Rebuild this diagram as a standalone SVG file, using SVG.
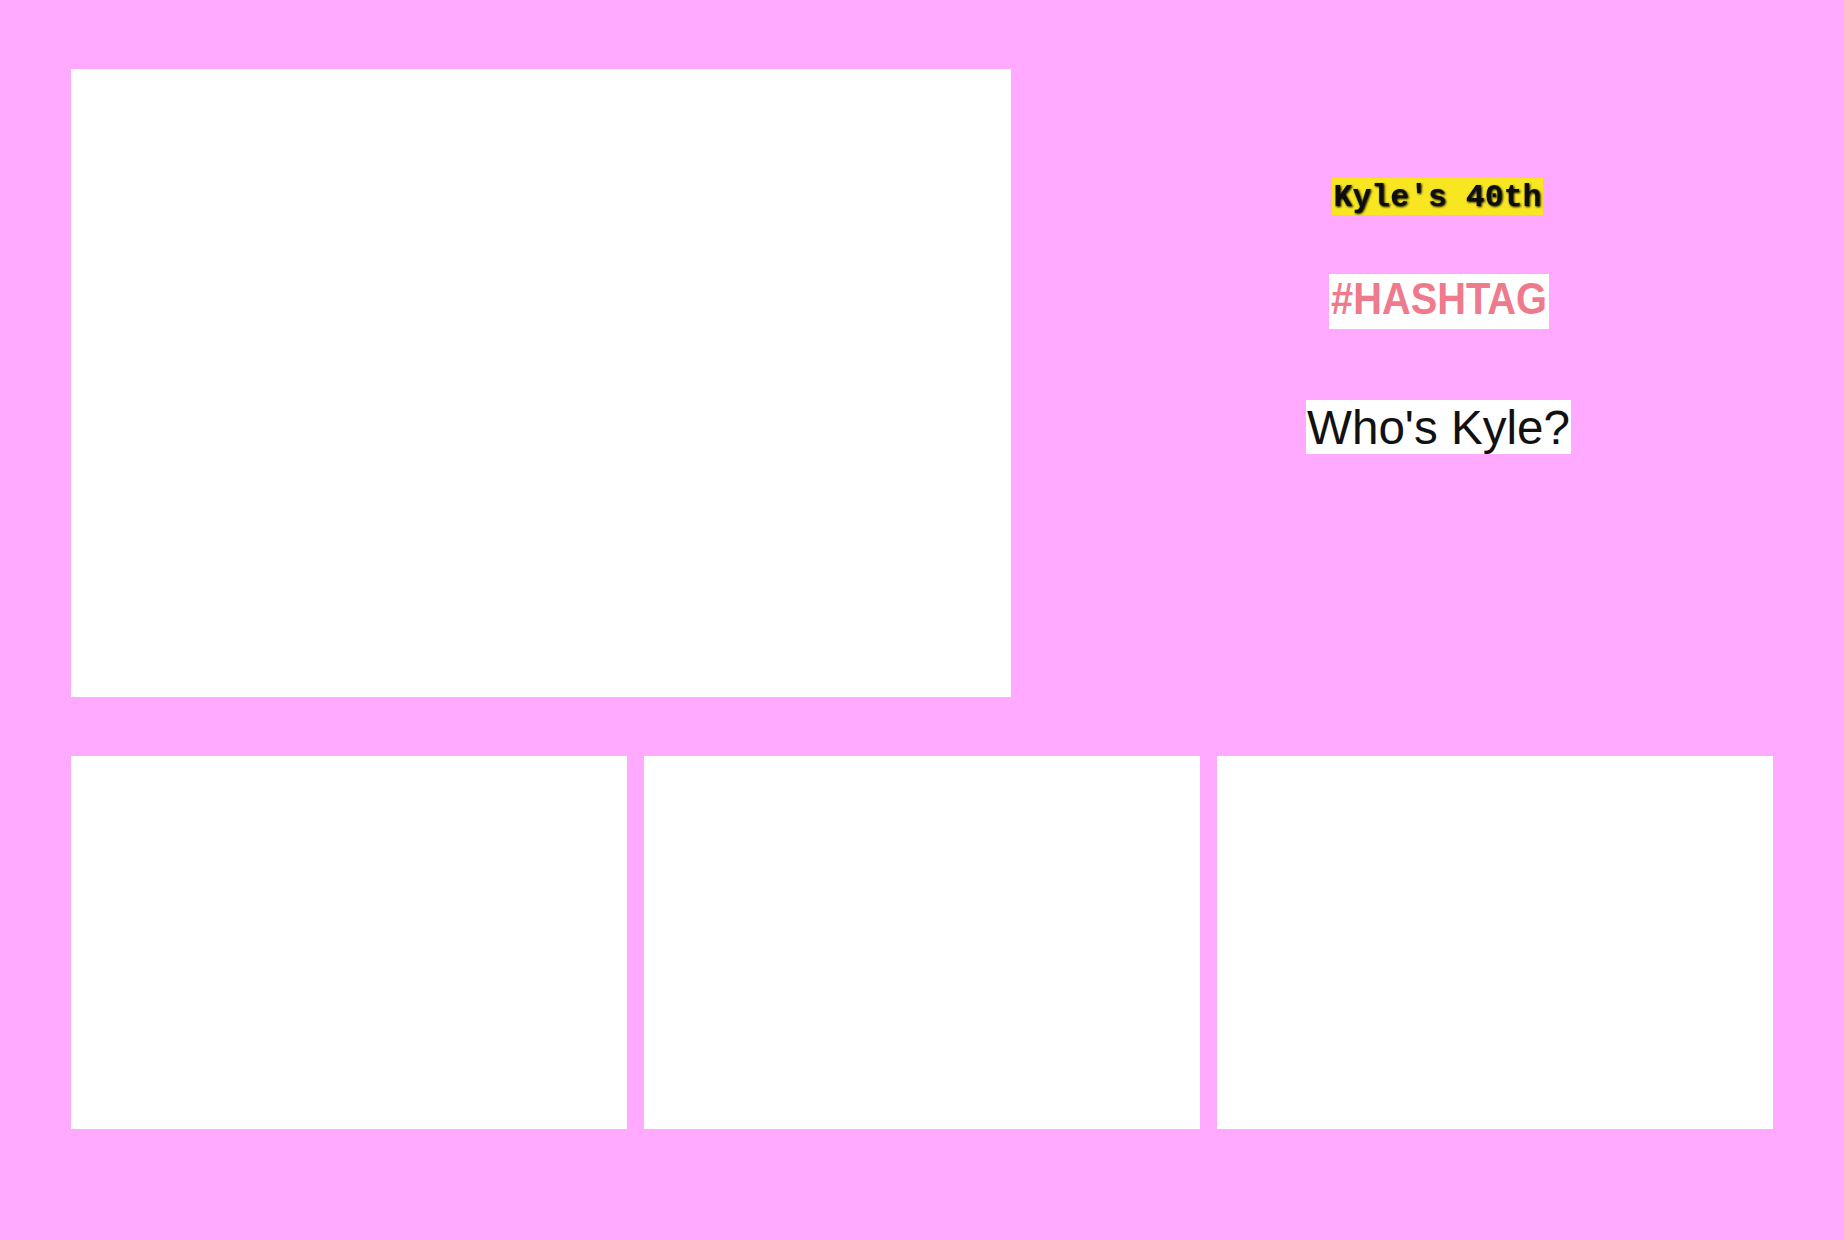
<svg xmlns="http://www.w3.org/2000/svg" width="1844" height="1240" viewBox="0 0 1844 1240">
<defs>
<style>
.bg{fill:#ffaaff}
.photo{fill:#ffffff}
.t1{font-family:"Liberation Mono","Courier New",monospace;font-weight:bold;font-size:31px;fill:#111}
.t2{font-family:"Liberation Sans",Arial,sans-serif;font-weight:bold;font-size:44px;fill:#ef7a8c}
.t3{font-family:"Liberation Sans",Arial,sans-serif;font-size:48px;fill:#111}
</style>
<filter id="sh" x="-10%" y="-30%" width="120%" height="160%">
<feGaussianBlur in="SourceAlpha" stdDeviation="1.2" result="b"/>
<feOffset in="b" dx="1" dy="1" result="o"/>
<feMerge><feMergeNode in="o"/><feMergeNode in="SourceGraphic"/></feMerge>
</filter>
</defs>
<rect class="bg" x="0" y="0" width="1844" height="1240"/>
<g id="photo-main"><rect class="photo" x="71" y="69" width="940" height="628"/></g>
<g id="photo-1"><rect class="photo" x="71" y="756" width="556" height="373"/></g>
<g id="photo-2"><rect class="photo" x="644" y="756" width="556" height="373"/></g>
<g id="photo-3"><rect class="photo" x="1217" y="756" width="556" height="373"/></g>
<g id="title">
<rect x="1332" y="178" width="211" height="37" fill="#f8e620"/>
<text class="t1" x="1437.5" y="206" text-anchor="middle" textLength="208" lengthAdjust="spacingAndGlyphs" filter="url(#sh)">Kyle's 40th</text>
</g>
<g id="hashtag">
<rect class="photo" x="1329" y="274" width="220" height="55"/>
<text class="t2" x="1439" y="314" text-anchor="middle" textLength="216" lengthAdjust="spacingAndGlyphs">#HASHTAG</text>
</g>
<g id="question">
<rect class="photo" x="1306" y="400" width="265" height="54"/>
<text class="t3" x="1438.5" y="444" text-anchor="middle" textLength="263" lengthAdjust="spacingAndGlyphs">Who's Kyle?</text>
</g>
<g id="connectors"/>
</svg>
